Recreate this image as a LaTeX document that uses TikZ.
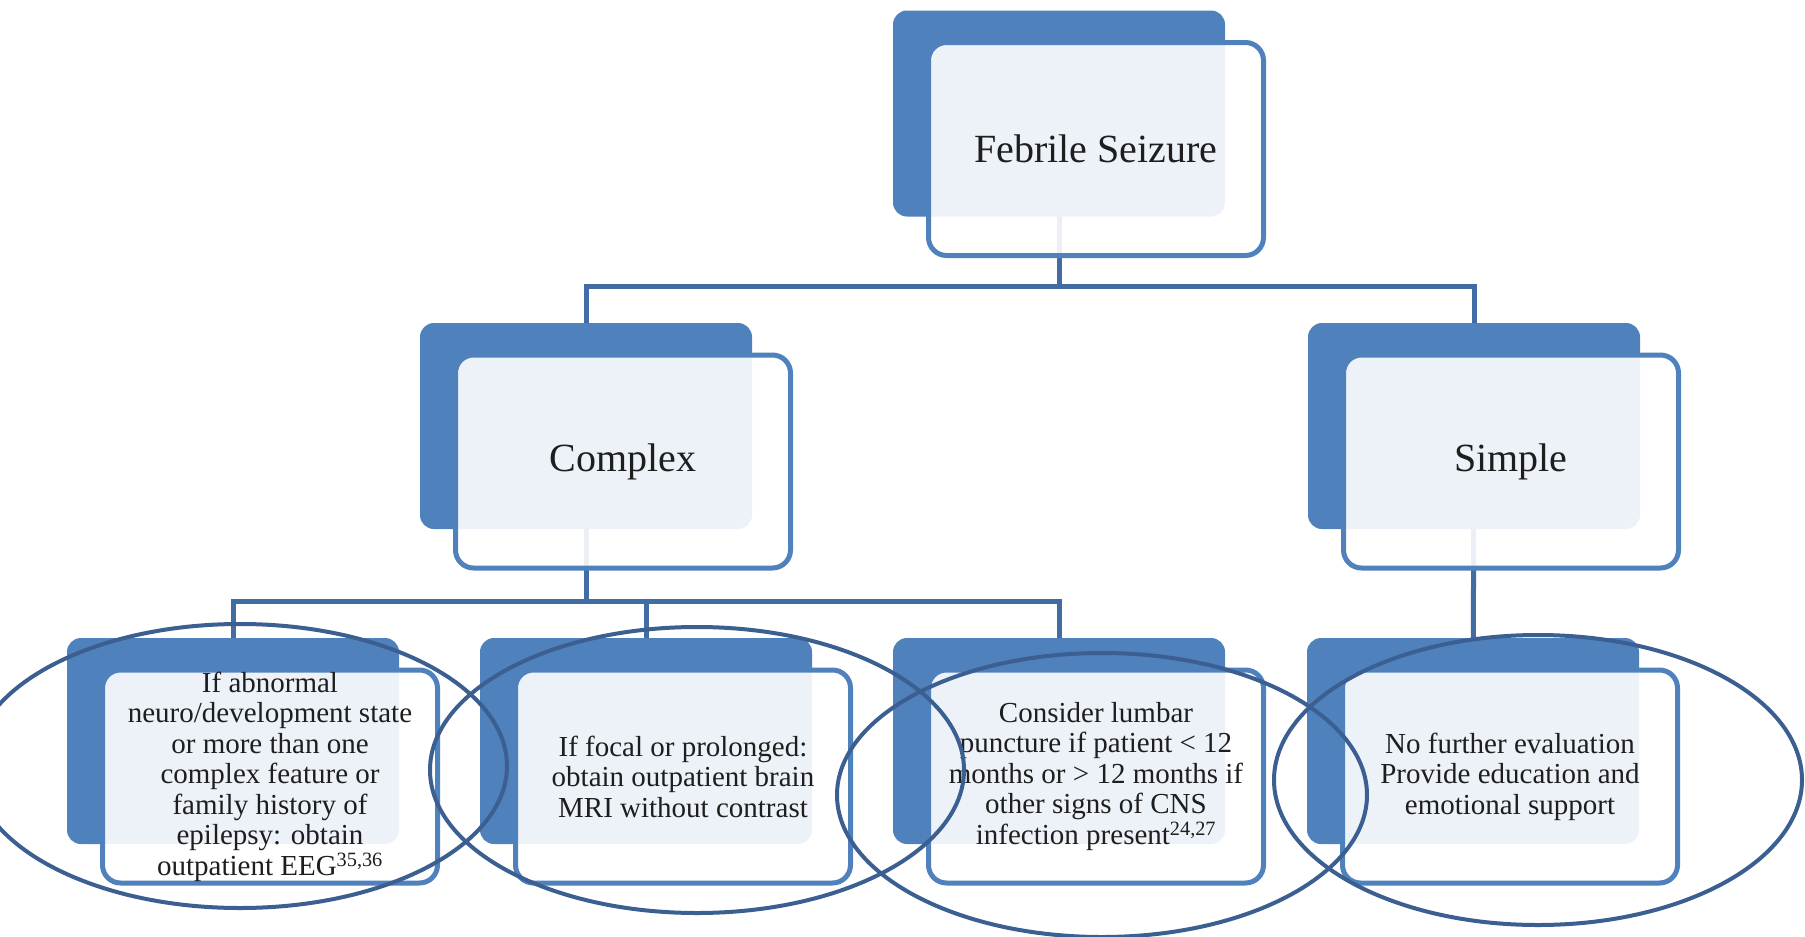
\documentclass[tikz,border=0pt]{standalone}
\usepackage{fontspec}
\setmainfont{Liberation Serif}
\usetikzlibrary{backgrounds}
\definecolor{boxblue}{RGB}{79,129,189}
\definecolor{lineblue}{RGB}{66,109,164}
\definecolor{ellblue}{RGB}{60,95,145}
\definecolor{txt}{RGB}{30,30,30}
\tikzset{
 backbox/.style={rectangle, rounded corners=14pt, fill=boxblue, minimum width=332pt, minimum height=206pt, inner sep=0pt},
 frontbox/.style={rectangle, rounded corners=18pt, draw=boxblue, line width=5pt, fill=white, fill opacity=0.9, text opacity=1, minimum width=335pt, minimum height=213pt, inner sep=0pt, align=center, text=txt},
 big/.style={font=\fontsize{40}{44}\selectfont},
 small/.style={font=\fontsize{29}{30.5}\selectfont},
 conn/.style={draw=lineblue, line width=5pt},
 ell/.style={draw=ellblue, line width=4pt},
}
\begin{document}
\begin{tikzpicture}[x=1pt,y=-1pt]
\useasboundingbox (0,0) rectangle (1805,937);
\clip (0,0) rectangle (1805,937);
% back boxes
\node[backbox] (fsB) at (1059,113.5) {};
\node[backbox] (cxB) at (586,426) {};
\node[backbox] (smB) at (1474,426) {};
\node[backbox] (b1B) at (233,741) {};
\node[backbox] (b2B) at (646,741) {};
\node[backbox] (b3B) at (1059,741) {};
\node[backbox] (b4B) at (1473,741) {};
% front boxes
\node[frontbox,big] (fsF) at (1096,149) {Febrile Seizure};
\node[frontbox,big] (cxF) at (623,461.5) {Complex};
\node[frontbox,big] (smF) at (1511,461.5) {Simple};
\node[frontbox,small] (b1F) at (270,776.5) {If abnormal\\neuro/development state\\or more than one\\complex feature or\\family history of\\epilepsy: obtain\\outpatient EEG\textsuperscript{35,36}};
\node[frontbox,small] (b2F) at (683,776.5) {If focal or prolonged:\\obtain outpatient brain\\MRI without contrast};
\node[frontbox,small] (b3F) at (1096,776.5) {Consider lumbar\\puncture if patient < 12\\months or > 12 months if\\other signs of CNS\\infection present\textsuperscript{24,27}};
\node[frontbox,small] (b4F) at (1510,776.5) {No further evaluation\\Provide education and\\emotional support};
% connectors and page background
\begin{pgfonlayer}{background}
\fill[white] (0,0) rectangle (1805,937);
\coordinate (j1) at (1059,286);
\coordinate (j2) at (586,601);
\draw[conn] (fsB.center) -- (fsB.center |- j1);
\draw[conn] (cxB.center) |- (fsB.center |- j1) -| (smB.center);
\draw[conn] (cxB.center) -- (cxB.center |- j2);
\draw[conn] (b1B.center) |- (b3B.center |- j2) -- (b3B.center);
\draw[conn] (b2B.center) -- (b2B.center |- j2);
\draw[conn] (smB.center) -- (b4B.center);
\end{pgfonlayer}
% ellipses
\draw[ell] (240,766) ellipse [x radius=267pt, y radius=142pt];
\draw[ell] (697,770) ellipse [x radius=267pt, y radius=143pt];
\draw[ell] (1102,795) ellipse [x radius=265pt, y radius=142pt];
\draw[ell] (1538,780) ellipse [x radius=264pt, y radius=145pt];
\end{tikzpicture}
\end{document}
